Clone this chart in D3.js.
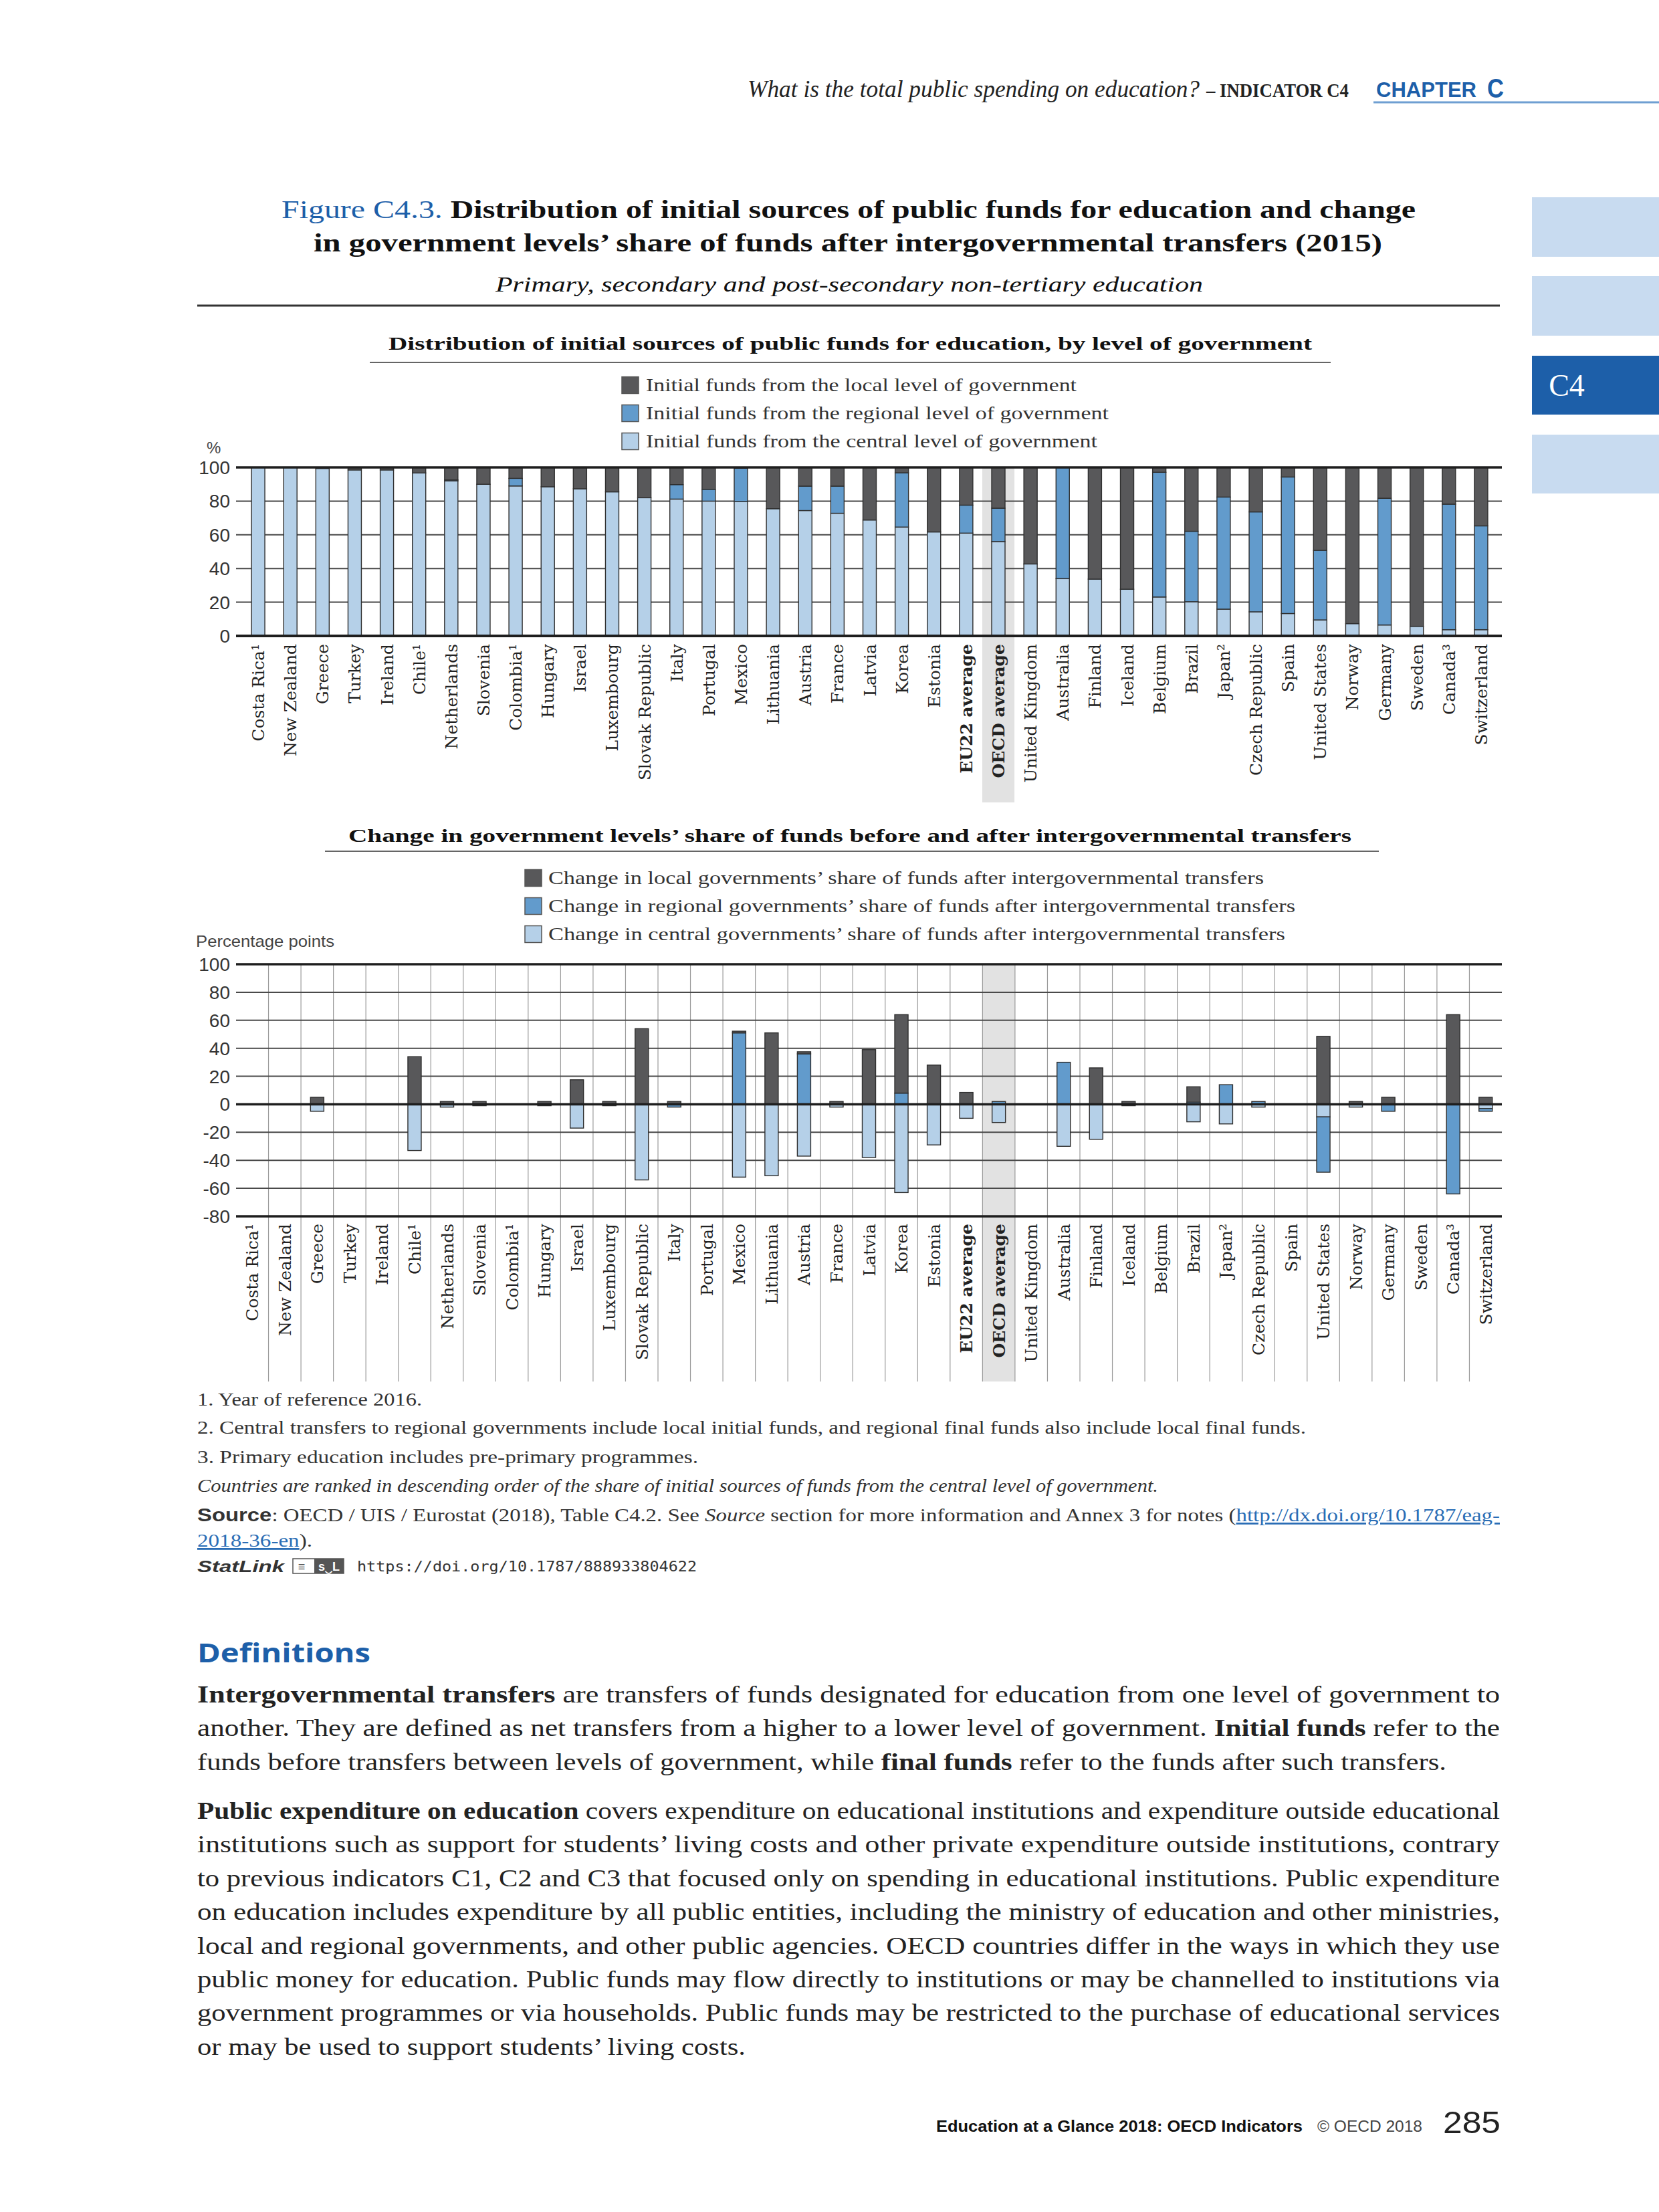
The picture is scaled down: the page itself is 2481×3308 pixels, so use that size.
<!DOCTYPE html>
<html><head><meta charset="utf-8">
<script src="https://cdn.jsdelivr.net/npm/d3@7"></script>
<style>html,body{margin:0;padding:0;background:#fff;} svg{display:block;}</style>
</head><body>
<script>
// ---------- DATA ----------
const categories = ["Costa Rica¹","New Zealand","Greece","Turkey","Ireland","Chile¹","Netherlands","Slovenia","Colombia¹","Hungary","Israel","Luxembourg","Slovak Republic","Italy","Portugal","Mexico","Lithuania","Austria","France","Latvia","Korea","Estonia","EU22 average","OECD average","United Kingdom","Australia","Finland","Iceland","Belgium","Brazil","Japan²","Czech Republic","Spain","United States","Norway","Germany","Sweden","Canada³","Switzerland"];
const boldCategories = ["EU22 average","OECD average"];
const highlightCategory = "OECD average";

// Panel 1: distribution of initial sources (%)
const initialCentral  = [100,100,99.4,98.5,98.5,96.7,92,90,89,88.5,87.3,85.5,82,81.2,80,79.7,75.5,74.4,72.8,68.8,64.6,61.7,61,56,42.7,34,33.7,27.7,23.1,20.3,15.9,14.3,13.3,9.5,7.3,6.5,5.7,3.7,3.7];
const initialRegional = [0,0,0,0,0,0,0.6,0,4.5,0,0,0,0,8.6,7,19.8,0,14.5,16.1,0,32.2,0,16.6,19.8,0,66,0,0,74,41.8,66.5,59.3,81,41.3,0,75.2,0,74.5,61.6];
const initialLocal    = [0,0,0.6,1.5,1.5,3.3,7.4,10,6.5,11.5,12.7,14.5,18,10.2,13,0.5,24.5,11.1,11.1,31.2,3.2,38.3,22.4,24.2,57.3,0,66.3,72.3,2.9,37.9,17.6,26.4,5.7,49.2,92.7,18.3,94.3,21.8,34.7];

// Panel 2: change in share after transfers (percentage points)
const changeCentral  = [0,0,-5,0,0,-33,-2,-1,0,-1,-17,-1,-54,0,0,-52,-51,-37,-2,-38,-63,-29,-10,-13,0,-30,-25,-1,0,-12.5,-14,-2,0,-9,-2,0,0,0,-3];
const changeRegional = [0,0,0,0,0,0,0,0,0,0,0,0,0,-2,0,51,0,36,0,0,8,0,0,2,0,30,0,0,0,1.5,14,2,0,-39.5,0,-5,0,-64,-2];
const changeLocal    = [0,0,5,0,0,34,2,2,0,2,17.5,2,54,2,0,1.2,51,1.5,2,39,56,28,8.5,0,0,0,26,2,0,11,0,0,0,48.5,2,5,0,64,5];

const initialTicks = [0,20,40,60,80,100];
const changeTicks  = [-80,-60,-40,-20,0,20,40,60,80,100];
const seriesKeys   = ["central","regional","local"];
const legendInitial = [["local","Initial funds from the local level of government"],["regional","Initial funds from the regional level of government"],["central","Initial funds from the central level of government"]];
const legendChange  = [["local","Change in local governments’ share of funds after intergovernmental transfers"],["regional","Change in regional governments’ share of funds after intergovernmental transfers"],["central","Change in central governments’ share of funds after intergovernmental transfers"]];

// ---------- STYLE ----------
const colors = {local:"#58585a", regional:"#629bcc", central:"#b5d0e8"};
const BLUE = "#1d5fa9";
const SERIF = "'Liberation Serif', 'DejaVu Serif', serif";
const LABELSERIF = "'DejaVu Serif', serif";
const SANS = "'Liberation Sans', 'Open Sans', sans-serif";

const svg = d3.select("body").append("svg").attr("width",2481).attr("height",3308)
  .attr("viewBox","0 0 2481 3308");
svg.append("rect").attr("width",2481).attr("height",3308).attr("fill","#fff");

function addText(parent, o, parts){
  const t = parent.append("text").attr("x",o.x).attr("y",o.y)
    .attr("font-family",o.family||SERIF).attr("font-size",o.size||28)
    .attr("fill",o.fill||"#222").attr("text-anchor",o.anchor||"start");
  if(o.weight) t.attr("font-weight",o.weight);
  if(o.style) t.attr("font-style",o.style);
  if(o.len){ t.attr("textLength",o.len).attr("lengthAdjust",o.adjust||"spacingAndGlyphs"); }
  if(typeof parts === "string") parts=[[parts,{}]];
  parts.forEach(([s,st])=>{
    const sp = t.append("tspan").text(s);
    if(st.weight) sp.attr("font-weight",st.weight);
    if(st.style) sp.attr("font-style",st.style);
    if(st.fill) sp.attr("fill",st.fill);
    if(st.family) sp.attr("font-family",st.family);
    if(st.size) sp.attr("font-size",st.size);
    if(st.deco) sp.attr("text-decoration",st.deco);
  });
  return t;
}

// ---------- PAGE HEADER ----------
addText(svg,{x:1118,y:145,size:36,len:676,style:"italic",fill:"#222"},"What is the total public spending on education?");
addText(svg,{x:1804,y:145,size:30,len:213,weight:"bold",fill:"#222"},"– INDICATOR C4");
addText(svg,{x:2058,y:145,size:32,len:150,fill:BLUE,weight:"bold",family:SANS},"CHAPTER");
addText(svg,{x:2224,y:146,size:40,len:25,fill:BLUE,weight:"bold",family:SANS},"C");
svg.append("line").attr("x1",2054).attr("x2",2481).attr("y1",153).attr("y2",153).attr("stroke","#6f9fd2").attr("stroke-width",3);

// side tabs
[[295,384,"#c8dbf0"],[413,502,"#c8dbf0"],[532,620,BLUE],[650,738,"#c8dbf0"]].forEach(([a,b,c])=>{
  svg.append("rect").attr("x",2291).attr("y",a).attr("width",190).attr("height",b-a).attr("fill",c);
});
addText(svg,{x:2343,y:592,size:46,fill:"#fff",anchor:"middle",family:SERIF},"C4");

// ---------- FIGURE TITLE ----------
addText(svg,{x:421,y:326,size:37,len:1696,weight:"bold",fill:"#111"},[["Figure C4.3.",{fill:BLUE,weight:"normal"}],["  Distribution of initial sources of public funds for education and change",{}]]);
addText(svg,{x:469,y:376,size:37,len:1598,weight:"bold",fill:"#111"},"in government levels’ share of funds after intergovernmental transfers (2015)");
addText(svg,{x:741,y:436,size:31,len:1058,style:"italic",fill:"#111"},"Primary, secondary and post-secondary non-tertiary education");
svg.append("line").attr("x1",295).attr("x2",2243).attr("y1",457).attr("y2",457).attr("stroke","#333").attr("stroke-width",3);

// ---------- PANEL 1 ----------
addText(svg,{x:581,y:523,size:27,len:1381,weight:"bold",fill:"#111"},"Distribution of initial sources of public funds for education, by level of government");
svg.append("line").attr("x1",553).attr("x2",1990).attr("y1",542).attr("y2",542).attr("stroke","#666").attr("stroke-width",2);

const leg1Len=[644,692,675];
legendInitial.forEach(([k,lab],i)=>{
  const cy = 576 + i*42;
  svg.append("rect").attr("x",930).attr("y",cy-12.5).attr("width",25).attr("height",25).attr("fill",colors[k]).attr("stroke","#555").attr("stroke-width",1.5);
  addText(svg,{x:966,y:cy+9,size:28,len:leg1Len[i],fill:"#333"},lab);
});
addText(svg,{x:309,y:678,size:24,family:SANS,fill:"#444"},"%");

const xTop = d3.scaleBand().domain(categories).range([362,2239]).padding(0);
const yTop = d3.scaleLinear().domain([0,100]).range([951,699]);
const barW = 20;
// highlight
svg.append("rect").attr("x",xTop(highlightCategory)).attr("y",699).attr("width",xTop.bandwidth()).attr("height",1200-699).attr("fill","#e2e2e2");
// grid
const g1 = svg.append("g");
initialTicks.forEach(t=>{
  if(t!==0 && t!==100) g1.append("line").attr("x1",353).attr("x2",2246).attr("y1",yTop(t)).attr("y2",yTop(t)).attr("stroke","#4a4a4a").attr("stroke-width",2);
  addText(g1,{x:344,y:yTop(t)+10,size:28,family:SANS,anchor:"end",fill:"#333"},String(t));
});
const topRows = categories.map((c,i)=>({cat:c,central:initialCentral[i],regional:initialRegional[i],local:initialLocal[i]}));
const topStack = d3.stack().keys(seriesKeys)(topRows);
topStack.forEach(s=>{
  s.forEach(d=>{
    if(d[1]-d[0] <= 0.01) return;
    svg.append("rect").attr("x",xTop(d.data.cat)+(xTop.bandwidth()-barW)/2).attr("width",barW)
      .attr("y",yTop(d[1])).attr("height",yTop(d[0])-yTop(d[1]))
      .attr("fill",colors[s.key]).attr("stroke","#2f2f2f").attr("stroke-width",1.4);
  });
});
[0,100].forEach(t=>svg.append("line").attr("x1",353).attr("x2",2246).attr("y1",yTop(t)).attr("y2",yTop(t)).attr("stroke","#1e1e1e").attr("stroke-width",t===0?4:3.5));
// category labels
categories.forEach(c=>{
  addText(svg.append("g").attr("transform",`translate(${xTop(c)+xTop.bandwidth()/2},963) rotate(-90)`),
    {x:0,y:9,size:25,family:LABELSERIF,anchor:"end",fill:"#222",weight:boldCategories.includes(c)?"bold":null},c);
});

// ---------- PANEL 2 ----------
addText(svg,{x:521,y:1259,size:27,len:1500,weight:"bold",fill:"#111"},"Change in government levels’ share of funds before and after intergovernmental transfers");
svg.append("line").attr("x1",486).attr("x2",2062).attr("y1",1273).attr("y2",1273).attr("stroke","#666").attr("stroke-width",2);
const leg2Len=[1070,1117,1102];
legendChange.forEach(([k,lab],i)=>{
  const cy = 1313 + i*42;
  svg.append("rect").attr("x",785).attr("y",cy-12.5).attr("width",25).attr("height",25).attr("fill",colors[k]).attr("stroke","#555").attr("stroke-width",1.5);
  addText(svg,{x:820,y:cy+9,size:28,len:leg2Len[i],fill:"#333"},lab);
});
addText(svg,{x:293,y:1416,size:24,len:207,family:SANS,fill:"#444"},"Percentage points");

const xBot = d3.scaleBand().domain(categories).range([353,2246]).padding(0);
const yBot = d3.scaleLinear().domain([-80,100]).range([1819,1442]);
svg.append("rect").attr("x",xBot(highlightCategory)).attr("y",1442).attr("width",xBot.bandwidth()).attr("height",2066-1442).attr("fill","#e2e2e2");
const g2 = svg.append("g");
categories.slice(0,-1).forEach(c=>{
  const xx = xBot(c)+xBot.bandwidth();
  g2.append("line").attr("x1",xx).attr("x2",xx).attr("y1",1442).attr("y2",2066).attr("stroke","#9a9a9a").attr("stroke-width",1.2);
});
changeTicks.forEach(t=>{
  if(![0,100,-80].includes(t)) g2.append("line").attr("x1",353).attr("x2",2246).attr("y1",yBot(t)).attr("y2",yBot(t)).attr("stroke","#4a4a4a").attr("stroke-width",2);
  addText(g2,{x:344,y:yBot(t)+10,size:28,family:SANS,anchor:"end",fill:"#333"},String(t));
});
const botRows = categories.map((c,i)=>({cat:c,central:changeCentral[i],regional:changeRegional[i],local:changeLocal[i]}));
const botStack = d3.stack().keys(seriesKeys).offset(d3.stackOffsetDiverging)(botRows);
botStack.forEach(s=>{
  s.forEach(d=>{
    if(Math.abs(d[1]-d[0]) <= 0.01) return;
    svg.append("rect").attr("x",xBot(d.data.cat)+(xBot.bandwidth()-barW)/2).attr("width",barW)
      .attr("y",yBot(d[1])).attr("height",yBot(d[0])-yBot(d[1]))
      .attr("fill",colors[s.key]).attr("stroke","#2f2f2f").attr("stroke-width",1.4);
  });
});
[100,0,-80].forEach(t=>svg.append("line").attr("x1",353).attr("x2",2246).attr("y1",yBot(t)).attr("y2",yBot(t)).attr("stroke","#1e1e1e").attr("stroke-width",3.5));
categories.forEach(c=>{
  addText(svg.append("g").attr("transform",`translate(${xBot(c)+xBot.bandwidth()/2},1830) rotate(-90)`),
    {x:0,y:9,size:25,family:LABELSERIF,anchor:"end",fill:"#222",weight:boldCategories.includes(c)?"bold":null},c);
});

// ---------- NOTES ----------
addText(svg,{x:295,y:2102,size:28,len:336,fill:"#333"},"1. Year of reference 2016.");
addText(svg,{x:295,y:2144,size:28,len:1658,fill:"#333"},"2. Central transfers to regional governments include local initial funds, and regional final funds also include local final funds.");
addText(svg,{x:295,y:2188,size:28,len:749,fill:"#333"},"3. Primary education includes pre-primary programmes.");
addText(svg,{x:295,y:2231,size:27,len:1437,style:"italic",fill:"#333"},"Countries are ranked in descending order of the share of initial sources of funds from the central level of government.");
addText(svg,{x:295,y:2275,size:28,len:1948,fill:"#333"},[["Source",{weight:"bold",family:SANS}],[": OECD / UIS / Eurostat (2018), Table C4.2. See ",{}],["Source",{style:"italic"}],[" section for more information and Annex 3 for notes (",{}],["http://dx.doi.org/10.1787/eag-",{fill:"#2a6db5",deco:"underline"}]]);
addText(svg,{x:295,y:2313,size:28,len:172,fill:"#333"},[["2018-36-en",{fill:"#2a6db5",deco:"underline"}],[").",{}]]);
addText(svg,{x:295,y:2351,size:24,len:130,family:SANS,weight:"bold",style:"italic",fill:"#333"},"StatLink");
svg.append("rect").attr("x",438).attr("y",2331).attr("width",76).attr("height",22).attr("fill","#fff").attr("stroke","#555").attr("stroke-width",1.5);
svg.append("rect").attr("x",470).attr("y",2331).attr("width",44).attr("height",22).attr("fill","#555");
addText(svg,{x:451,y:2349,size:18,family:SANS,weight:"bold",fill:"#555",anchor:"middle"},"≡");
addText(svg,{x:492,y:2349,size:18,family:SANS,weight:"bold",fill:"#fff",anchor:"middle"},"s‿L");
addText(svg,{x:534,y:2350,size:22,len:508,family:"'DejaVu Sans Mono','Liberation Mono',monospace",fill:"#333"},"https://doi.org/10.1787/888933804622");

// ---------- DEFINITIONS ----------
addText(svg,{x:295,y:2486,size:40,len:259,family:"'Open Sans','Liberation Sans',sans-serif",weight:"bold",fill:BLUE},"Definitions");
const pLines = [
  {y:2546,len:1948,parts:[["Intergovernmental transfers",{weight:"bold"}],[" are transfers of funds designated for education from one level of government to",{}]]},
  {y:2596,len:1948,parts:[["another. They are defined as net transfers from a higher to a lower level of government. ",{}],["Initial funds",{weight:"bold"}],[" refer to the",{}]]},
  {y:2647,len:1868,parts:[["funds before transfers between levels of government, while ",{}],["final funds",{weight:"bold"}],[" refer to the funds after such transfers.",{}]]},
  {y:2720,len:1948,parts:[["Public expenditure on education",{weight:"bold"}],[" covers expenditure on educational institutions and expenditure outside educational",{}]]},
  {y:2770,len:1948,parts:[["institutions such as support for students’ living costs and other private expenditure outside institutions, contrary",{}]]},
  {y:2821,len:1948,parts:[["to previous indicators C1, C2 and C3 that focused only on spending in educational institutions. Public expenditure",{}]]},
  {y:2871,len:1948,parts:[["on education includes expenditure by all public entities, including the ministry of education and other ministries,",{}]]},
  {y:2922,len:1948,parts:[["local and regional governments, and other public agencies. OECD countries differ in the ways in which they use",{}]]},
  {y:2972,len:1948,parts:[["public money for education. Public funds may flow directly to institutions or may be channelled to institutions via",{}]]},
  {y:3022,len:1948,parts:[["government programmes or via households. Public funds may be restricted to the purchase of educational services",{}]]},
  {y:3073,len:820,parts:[["or may be used to support students’ living costs.",{}]]}
];
pLines.forEach(l=>addText(svg,{x:295,y:l.y,size:35,len:l.len,fill:"#222"},l.parts));

// ---------- FOOTER ----------
addText(svg,{x:1400,y:3188,size:24,len:548,family:SANS,weight:"bold",fill:"#111"},"Education at a Glance 2018: OECD Indicators");
addText(svg,{x:1970,y:3188,size:24,len:157,family:SANS,fill:"#444"},"© OECD 2018");
addText(svg,{x:2158,y:3190,size:46,len:86,family:SANS,fill:"#222"},"285");
</script>
</body></html>
